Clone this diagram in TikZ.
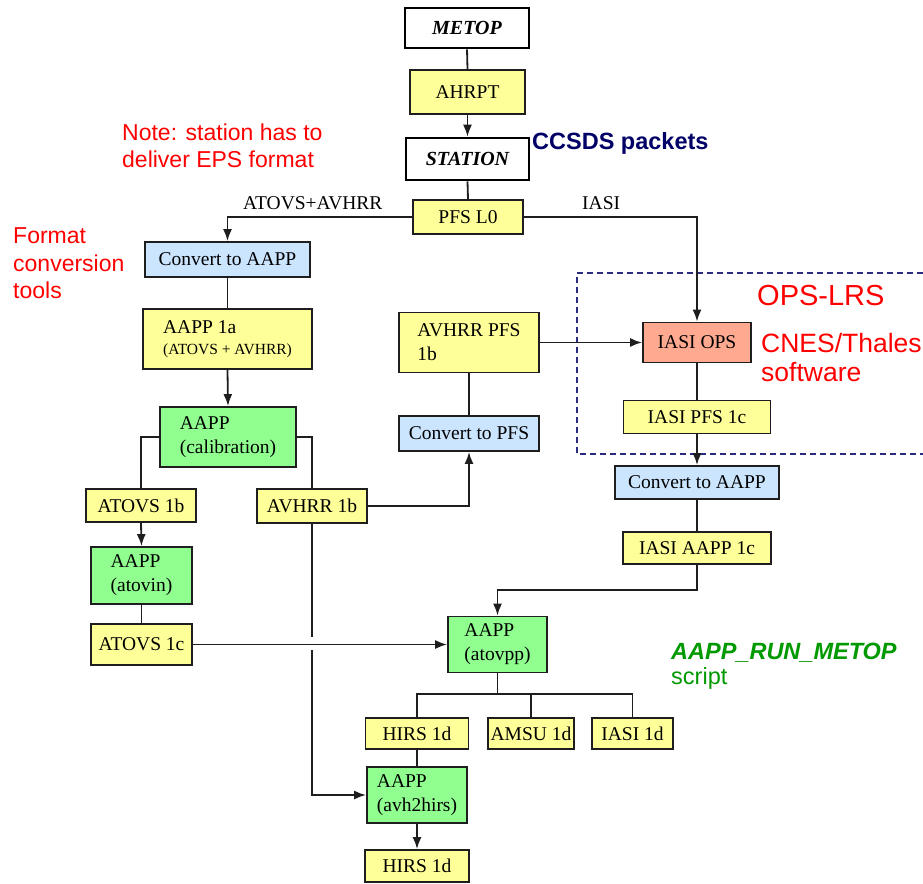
\documentclass[tikz,border=0pt]{standalone}
\usepackage{fontspec}
\setmainfont{Liberation Serif}
\newfontfamily\sansf{Liberation Sans}
\usetikzlibrary{arrows.meta}
\definecolor{byel}{HTML}{FFFF99}
\definecolor{bblue}{HTML}{CCE5FF}
\definecolor{bgreen}{HTML}{90FF90}
\definecolor{bsalmon}{HTML}{FFAA90}
\definecolor{nred}{HTML}{FF0000}
\definecolor{nnavy}{HTML}{000066}
\definecolor{ngreen}{HTML}{009900}
\definecolor{dashnavy}{HTML}{2A2A80}
\definecolor{lineg}{HTML}{1E1E1E}
\begin{document}
\begin{tikzpicture}[x=1pt,y=-1pt,
  box/.style={draw=lineg,line width=1.8pt,inner sep=0pt,align=left,
    font=\fontsize{19.5}{24}\selectfont},
  thickbox/.style={box,draw=black,line width=2.6pt,fill=white,font=\fontsize{20}{24}\selectfont\bfseries\itshape},
  yel/.style={box,fill=byel},
  blu/.style={box,fill=bblue},
  grn/.style={box,fill=bgreen},
  sal/.style={box,fill=bsalmon},
  conn/.style={line width=1.8pt,draw=lineg},
  arr/.style={conn,-{Latex[length=12pt,width=9pt]}},
  lbl/.style={anchor=base west,inner sep=0pt,font=\fontsize{19.5}{24}\selectfont},
  rednote/.style={anchor=base west,inner sep=0pt,text=nred,font=\sansf\fontsize{23}{27}\selectfont},
  bignote/.style={anchor=base west,inner sep=0pt,text=nred,font=\sansf\fontsize{29}{32}\selectfont},
  cnes/.style={anchor=base west,inner sep=0pt,text=nred,font=\sansf\fontsize{26.5}{30}\selectfont},
  grnote/.style={anchor=base west,inner sep=0pt,text=ngreen,font=\sansf\fontsize{23.5}{27}\selectfont}
]
\useasboundingbox (0,0) rectangle (923,883);

% dashed OPS-LRS region
\draw[dashnavy,dash pattern=on 6pt off 4pt,line width=1.5pt] (923,273) -- (577,273) -- (577,454) -- (923,454);

% boxes
\node[thickbox,minimum width=124pt,minimum height=40pt] (metop) at (467,28) {METOP};
\node[yel,minimum width=115pt,minimum height=44pt] (ahrpt) at (467.5,92) {AHRPT};
\node[thickbox,minimum width=123pt,minimum height=42pt] (station) at (467.5,159) {STATION};
\node[yel,minimum width=110pt,minimum height=34pt] (pfsl0) at (468,217) {PFS L0};
\node[blu,minimum width=165pt,minimum height=35pt] (conv1) at (227.5,259.5) {Convert to AAPP};
\node[yel,minimum width=169pt,minimum height=60pt] (aapp1a) at (227.5,339)
  {AAPP 1a\\[-3pt]{\fontsize{15.5}{18}\selectfont (ATOVS + AVHRR)}};
\node[grn,minimum width=136pt,minimum height=60pt] (cal) at (228,437) {AAPP\\(calibration)};
\node[yel,minimum width=110pt,minimum height=33pt] (atovs1b) at (141,505.5) {ATOVS 1b};
\node[yel,minimum width=110pt,minimum height=34pt] (avhrr1b) at (312,506) {AVHRR 1b};
\node[yel,minimum width=140pt,minimum height=60pt] (avhrrpfs) at (469,342.5) {AVHRR PFS\\1b};
\node[blu,minimum width=140pt,minimum height=35pt] (convpfs) at (469,433.5) {Convert to PFS};
\node[sal,minimum width=108pt,minimum height=40pt] (iasiops) at (697,342.5) {IASI OPS};
\node[yel,minimum width=147pt,minimum height=33pt] (iasipfs) at (697,417) {IASI PFS 1c};
\node[blu,minimum width=164pt,minimum height=33pt] (conv2) at (697,482.5) {Convert to AAPP};
\node[yel,minimum width=148pt,minimum height=32pt] (iasiaapp) at (697,548) {IASI AAPP 1c};
\node[grn,minimum width=101pt,minimum height=57pt] (atovin) at (141.5,575.5) {AAPP\\(atovin)};
\node[yel,minimum width=101pt,minimum height=41pt] (atovs1c) at (141.5,644.5) {ATOVS 1c};
\node[grn,minimum width=99pt,minimum height=56pt] (atovpp) at (497.5,644.5) {AAPP\\(atovpp)};
\node[yel,minimum width=103pt,minimum height=31pt] (hirs1) at (417,733.5) {HIRS 1d};
\node[yel,minimum width=86pt,minimum height=31pt] (amsu) at (531,733.5) {AMSU 1d};
\node[yel,minimum width=81pt,minimum height=31pt] (iasi1d) at (632.5,733.5) {IASI 1d};
\node[grn,minimum width=100pt,minimum height=56pt] (avh2hirs) at (417,795) {AAPP\\(avh2hirs)};
\node[yel,minimum width=104pt,minimum height=32pt] (hirs2) at (417,866) {HIRS 1d};

% labels
\node[lbl] (lab1) at (243,209) {ATOVS+AVHRR};
\node[lbl] (lab2) at (582,209) {IASI};
\node[anchor=base west,inner sep=0pt,text=nnavy,font=\sansf\bfseries\fontsize{23.5}{27}\selectfont] (ccsds) at (532,149) {CCSDS packets};
\node[rednote] (note1) at (122,140) {Note: station has to};
\node[rednote] (note2) at (122,167) {deliver EPS format};
\node[rednote] (fmt1) at (13,243) {Format};
\node[rednote] (fmt2) at (13,271) {conversion};
\node[rednote] (fmt3) at (13,298) {tools};
\node[bignote] (opslrs) at (757,305) {OPS-LRS};
\node[cnes] (cnes1) at (761,352) {CNES/Thales};
\node[cnes] (cnes2) at (761,381) {software};
\node[grnote,font=\sansf\bfseries\itshape\fontsize{23.5}{27}\selectfont] (run) at (671,659) {AAPP\_RUN\_METOP};
\node[grnote] (script) at (671,684) {script};

% connectors
\draw[conn] (metop.south) -- (ahrpt.north);
\draw[arr] (ahrpt.south) -- (station.north);
\draw[conn] (station.south) -- (pfsl0.north);
\draw[arr] (pfsl0.west) -| (conv1.north);
\draw[arr] (pfsl0.east) -| (iasiops.north);
\draw[conn] (conv1.south) -- (aapp1a.north);
\draw[arr] (aapp1a.south) -- (cal.north);
\draw[conn] (cal.west) -| (atovs1b.north);
\draw[conn] (cal.east) -| (avhrr1b.north);
\draw[arr] (atovs1b.south) -- (atovin.north);
\draw[conn] (atovin.south) -- (atovs1c.north);
\draw[arr] (atovs1c.east) -- (atovpp.west);
\draw[arr] (avhrr1b.east) -| (convpfs.south);
\draw[conn] (convpfs.north) -- (avhrrpfs.south);
\draw[arr] (avhrrpfs.east) -- (iasiops.west);
\draw[conn] (iasiops.south) -- (iasipfs.north);
\draw[arr] (iasipfs.south) -- (conv2.north);
\draw[conn] (conv2.south) -- (iasiaapp.north);
\coordinate (j1) at (697,590);
\draw[arr] (iasiaapp.south) -- (j1) -| (atovpp.north);
\coordinate (j2) at (497.5,694);
\draw[conn] (atovpp.south) -- (j2);
\draw[conn] (j2) -| (hirs1.north);
\draw[conn] (j2) -| (iasi1d.north);
\draw[conn] (amsu.north) -- (amsu.north |- j2);
\draw[conn] (hirs1.south) -- (avh2hirs.north);
\coordinate (g1) at (312,637);
\coordinate (g2) at (312,650);
\coordinate (k1) at (312,795);
\draw[conn] (avhrr1b.south) -- (g1);
\draw[arr] (g2) -- (k1) -- (avh2hirs.west);
\draw[arr] (avh2hirs.south) -- (hirs2.north);
\end{tikzpicture}
\end{document}
